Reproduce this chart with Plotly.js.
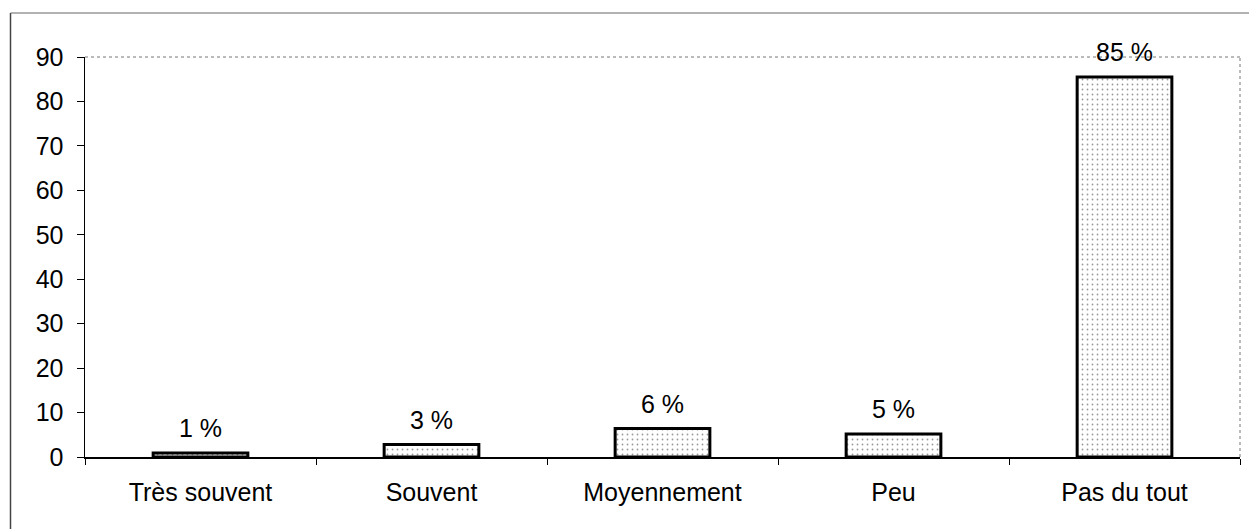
<!DOCTYPE html>
<html>
<head>
<meta charset="utf-8">
<script src="https://cdn.plot.ly/plotly-3.0.1.min.js"></script>
<style>
  html, body { margin: 0; padding: 0; background: #fff; }
  #chart { width: 1249px; height: 529px; }
</style>
</head>
<body>
<div id="chart"></div>
<script>
// Data
const categories = ["Très souvent", "Souvent", "Moyennement", "Peu", "Pas du tout"];
const values = [0.9, 2.8, 6.4, 5.2, 85.5];
const labels = ["1 %", "3 %", "6 %", "5 %", "85 %"];
const yTicks = [0, 10, 20, 30, 40, 50, 60, 70, 80, 90];

const FONT = "Liberation Sans, Arial, sans-serif";
const FS = 25;

const trace = {
  type: "bar",
  x: categories,
  y: values,
  width: 0.41,
  marker: {
    color: "#ffffff",
    line: { color: "#000000", width: 3 },
    pattern: { shape: ".", fgcolor: "#9a9a9a", bgcolor: "#ffffff", size: 5, solidity: 0.1 }
  },
  hoverinfo: "skip"
};

const annotations = categories.map((c, i) => ({
  x: c,
  y: values[i],
  xref: "x",
  yref: "y",
  text: labels[i],
  showarrow: false,
  yanchor: "middle",
  yshift: 25,
  font: { family: FONT, size: FS, color: "#000" }
}));

const shapes = [
  // outer frame (left and top)
  { type: "line", xref: "paper", yref: "paper", x0: -0.0645, x1: -0.0645, y0: -0.2, y1: 1.11,
    line: { color: "#444", width: 1.5 } },
  { type: "line", xref: "paper", yref: "paper", x0: -0.0645, x1: 1.01, y0: 1.11, y1: 1.11,
    line: { color: "#666", width: 1.2 } },
  // plot area top and right (dotted)
  { type: "line", xref: "paper", yref: "paper", x0: 0, x1: 1, y0: 1, y1: 1,
    line: { color: "#777", width: 1, dash: "dot" } },
  { type: "line", xref: "paper", yref: "paper", x0: 1, x1: 1, y0: 0, y1: 1,
    line: { color: "#777", width: 1, dash: "dot" } }
];

const layout = {
  width: 1249,
  height: 529,
  margin: { l: 85, r: 9, t: 57, b: 72 },
  paper_bgcolor: "#ffffff",
  plot_bgcolor: "#ffffff",
  showlegend: false,
  font: { family: FONT, size: FS, color: "#000" },
  xaxis: {
    type: "category",
    showline: true,
    linecolor: "#000",
    linewidth: 1.5,
    ticks: "outside",
    tickson: "boundaries",
    ticklen: 6,
    tickcolor: "#000",
    tickwidth: 1,
    showgrid: false,
    zeroline: false,
    ticklabelstandoff: 12,
    tickfont: { family: FONT, size: FS, color: "#000" }
  },
  yaxis: {
    range: [0, 90],
    tickvals: yTicks,
    ticktext: yTicks.map(String),
    showline: true,
    linecolor: "#000",
    linewidth: 1.5,
    ticks: "outside",
    ticklen: 7,
    tickcolor: "#000",
    tickwidth: 1,
    showgrid: false,
    zeroline: false,
    ticklabelstandoff: 8,
    tickfont: { family: FONT, size: FS, color: "#000" }
  },
  annotations: annotations,
  shapes: shapes
};

Plotly.newPlot("chart", [trace], layout, { staticPlot: true, displayModeBar: false });
</script>
</body>
</html>
